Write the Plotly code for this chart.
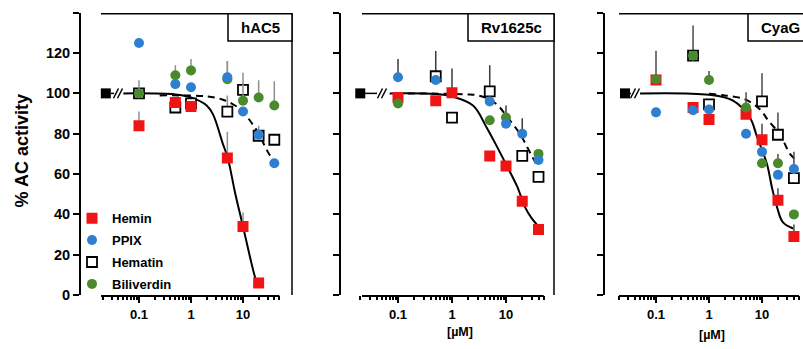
import math
import plotly.graph_objects as go

W, H = 803, 349

# ---------------- data ----------------
conc = [0.1, 0.5, 1, 5, 10, 20, 40]
panel_names = ["hAC5", "Rv1625c", "CyaG"]
ctrl_x = [0.023, 0.02, 0.026]
ctrl_y = [100, 100, 100]

# hAC5
hac5_hemin = [84, 95.5, 93.5, 68, 34, 6, None]
hac5_hemin_err = [7, 0, 0, 13, 7, 0, 0]
hac5_ppix = [125, 104.6, 103, 108, 91, 79.5, 65.4]
hac5_ppix_err = [0, 0, 0, 8, 0, 4.5, 0]
hac5_hematin = [100, 93, 95, 91, 101.7, 79, 77]
hac5_hematin_err = [0, 0, 0, 8, 8.5, 0, 0]
hac5_bili = [100, 109, 111.4, 107, 96.4, 98, 94]
hac5_bili_err = [6.5, 5, 5.6, 9, 8.6, 8.5, 12]
hac5_fit_x = [0.05, 0.5, 1, 2, 2.65, 4.1, 5.1, 7, 10, 13.6, 17, 20]
hac5_fit_y = [100, 99.5, 98, 94, 89.6, 75, 68, 51, 34, 19, 9, 4]
hac5_dash_x = [0.25, 2, 4, 6, 9, 15, 20, 30, 40]
hac5_dash_y = [99, 98.5, 97, 95, 92, 85, 80, 71, 66]

# Rv1625c
rv_hemin = [98, 96.4, 100.3, 69, 64, 46.5, 32.5]
rv_hemin_err = [0, 0, 12, 0, 0, 0, 0]
rv_ppix = [108, 106.6, None, 96, 85, 80, 67]
rv_ppix_err = [9, 0, 0, 0, 0, 7.7, 0]
rv_hematin = [None, 108.5, 88, 101, None, 69, 58.6]
rv_hematin_err = [0, 12.5, 0, 13, 0, 0, 0]
rv_bili = [95, None, None, 86.7, 88, None, 70]
rv_bili_err = [0, 0, 0, 0, 6, 0, 0]
rv_fit_x = [0.07, 0.5, 1, 2.45, 4.4, 6.8, 10.4, 16, 22.5, 30, 40]
rv_fit_y = [100, 99.7, 98.5, 94, 83, 73.6, 64, 54, 43.6, 38, 34]
rv_dash_x = [0.15, 2, 3, 5, 7.7, 10, 16, 20, 30, 40]
rv_dash_y = [100, 99.5, 99, 97, 93, 89, 82, 78, 69, 63]

# CyaG
cy_hemin = [106.6, 93, 87, 89.6, 77, 47, 29]
cy_hemin_err = [14.5, 0, 0, 11, 8, 6, 6]
cy_ppix = [90.6, 91.6, 92, 80, 71, 59.6, 62.5]
cy_ppix_err = [0, 0, 0, 0, 0, 0, 8.5]
cy_hematin = [None, 118.7, 94.5, None, 96, 79.5, 58]
cy_hematin_err = [0, 15, 0, 0, 14, 11, 0]
cy_bili = [107, 118.7, 106.6, 93, 65.4, 65.4, 40]
cy_bili_err = [0, 0, 4.5, 0, 0, 4.5, 0]
cy_fit_x = [0.05, 1, 2.84, 5.9, 8.05, 12.4, 15.5, 19.2, 24.9, 38.5]
cy_fit_y = [100, 99.3, 96.4, 88, 78.5, 65, 53, 43.6, 36, 33]
cy_dash_x = [1, 2, 4.8, 9.2, 13, 21.9, 33.7, 44]
cy_dash_y = [99.8, 99, 97, 92, 86.7, 79.5, 70, 67]

y_ticks = [0, 20, 40, 60, 80, 100, 120, 140]
y_ticktext = ["0", "20", "40", "60", "80", "100", "120", ""]
x_major = [0.1, 1, 10]
x_major_text = ["0.1", "1", "10"]
x_minor = [0.02, 0.03, 0.04, 0.05, 0.06, 0.07, 0.08, 0.09,
           0.2, 0.3, 0.4, 0.5, 0.6, 0.7, 0.8, 0.9,
           2, 3, 4, 5, 6, 7, 8, 9, 20, 30, 40, 50]

panels_data = [
    dict(hemin=hac5_hemin, hemin_err=hac5_hemin_err, ppix=hac5_ppix, ppix_err=hac5_ppix_err,
         hematin=hac5_hematin, hematin_err=hac5_hematin_err, bili=hac5_bili, bili_err=hac5_bili_err,
         fx=hac5_fit_x, fy=hac5_fit_y, dx=hac5_dash_x, dy=hac5_dash_y),
    dict(hemin=rv_hemin, hemin_err=rv_hemin_err, ppix=rv_ppix, ppix_err=rv_ppix_err,
         hematin=rv_hematin, hematin_err=rv_hematin_err, bili=rv_bili, bili_err=rv_bili_err,
         fx=rv_fit_x, fy=rv_fit_y, dx=rv_dash_x, dy=rv_dash_y),
    dict(hemin=cy_hemin, hemin_err=cy_hemin_err, ppix=cy_ppix, ppix_err=cy_ppix_err,
         hematin=cy_hematin, hematin_err=cy_hematin_err, bili=cy_bili, bili_err=cy_bili_err,
         fx=cy_fit_x, fy=cy_fit_y, dx=cy_dash_x, dy=cy_dash_y),
]

# ---------------- layout geometry (pixels) ----------------
geo = [
    dict(yax=80, x0=98, frame_l=101, x1=292, frame_r=292, one=191, dec=52, box0=228, brk=[111, 114, 116, 120]),
    dict(yax=340, x0=352, frame_l=362, x1=554, frame_r=554, one=452, dec=54, box0=468, brk=[365, 377, 380, 384]),
    dict(yax=604, x0=616, frame_l=619, x1=803, frame_r=812, one=709, dec=53, box0=748, brk=[630, 631, 633, 637]),
]
Y_TOP, Y_BOT = 13, 302

RED = "#f01414"
BLUE = "#2f7fd0"
GREEN = "#4a8a2c"
ERRC = ["#8f8f8f", "#3a3a3a", "#4a4a4a"]
FONT = "Liberation Sans, Arial, sans-serif"


def PX(x):
    return x / W


def PY(y):
    return 1 - y / H


fig = go.Figure()
shapes = []
annotations = []

for i, (name, d, g) in enumerate(zip(panel_names, panels_data, geo)):
    k = "" if i == 0 else str(i + 1)
    xa, ya = "x" + k, "y" + k
    first = i == 0

    # fitted curves
    fig.add_trace(go.Scatter(x=d["fx"], y=d["fy"], mode="lines", line=dict(color="black", width=2, shape="spline"),
                             xaxis=xa, yaxis=ya, showlegend=False, hoverinfo="skip"))
    fig.add_trace(go.Scatter(x=d["dx"], y=d["dy"], mode="lines",
                             line=dict(color="black", width=2, dash="7px,5px", shape="spline"),
                             xaxis=xa, yaxis=ya, showlegend=False, hoverinfo="skip"))

    def err(arr):
        return dict(type="data", symmetric=False, array=arr, arrayminus=[0] * len(arr),
                    width=0, thickness=1.5, color=ERRC[i])

    fig.add_trace(go.Scatter(x=conc, y=d["hematin"], mode="markers", name="Hematin",
                             marker=dict(symbol="square", size=10, color="white", line=dict(color="black", width=1.8)),
                             error_y=err(d["hematin_err"]), xaxis=xa, yaxis=ya,
                             showlegend=first, legendgroup="hematin", legendrank=3))
    fig.add_trace(go.Scatter(x=conc, y=d["hemin"], mode="markers", name="Hemin",
                             marker=dict(symbol="square", size=11, color=RED),
                             error_y=err(d["hemin_err"]), xaxis=xa, yaxis=ya,
                             showlegend=first, legendgroup="hemin", legendrank=1))
    fig.add_trace(go.Scatter(x=conc, y=d["bili"], mode="markers", name="Biliverdin",
                             marker=dict(symbol="circle", size=10, color=GREEN),
                             error_y=err(d["bili_err"]), xaxis=xa, yaxis=ya,
                             showlegend=first, legendgroup="bili", legendrank=4))
    fig.add_trace(go.Scatter(x=conc, y=d["ppix"], mode="markers", name="PPIX",
                             marker=dict(symbol="circle", size=10, color=BLUE),
                             error_y=err(d["ppix_err"]), xaxis=xa, yaxis=ya,
                             showlegend=first, legendgroup="ppix", legendrank=2))
    fig.add_trace(go.Scatter(x=[ctrl_x[i]], y=[ctrl_y[i]], mode="markers",
                             marker=dict(symbol="square", size=10, color="black"),
                             cliponaxis=False, xaxis=xa, yaxis=ya, showlegend=False))

    r0 = (g["x0"] - g["one"]) / g["dec"]
    r1 = (g["x1"] - g["one"]) / g["dec"]
    fig.update_layout(**{
        "xaxis" + k: dict(type="log", domain=[PX(g["x0"]), PX(g["x1"])], range=[r0, r1], anchor=ya,
                          showline=False, showgrid=False, zeroline=False,
                          tickmode="array", tickvals=x_major, ticktext=x_major_text,
                          ticks="outside", ticklen=7, tickwidth=1.5, tickcolor="black",
                          tickfont=dict(size=13, color="black"),
                          minor=dict(tickmode="array", tickvals=x_minor, ticks="outside", ticklen=4,
                                     tickwidth=1.5, tickcolor="black", showgrid=False)),
        "yaxis" + k: dict(domain=[PY(Y_BOT), PY(Y_TOP)], range=[0, 140], anchor="free", position=PX(g["yax"]),
                          showline=True, linewidth=2, linecolor="black", showgrid=False, zeroline=False,
                          tickmode="array", tickvals=y_ticks, ticktext=y_ticktext,
                          ticks="outside", ticklen=6, tickwidth=2, tickcolor="black",
                          showticklabels=first, tickfont=dict(size=14.5, color="black")),
    })

    # x-axis line (ends at 50)
    xend = g["one"] + g["dec"] * math.log10(50)
    shapes.append(dict(type="line", xref="paper", yref="paper", x0=PX(g["frame_l"]), x1=PX(xend),
                       y0=PY(Y_BOT + 1), y1=PY(Y_BOT + 1), line=dict(color="black", width=2)))
    # frame (top and right)
    shapes.append(dict(type="line", xref="paper", yref="paper", x0=PX(g["frame_l"]), x1=PX(g["frame_r"]),
                       y0=PY(14), y1=PY(14), line=dict(color="black", width=1.5)))
    shapes.append(dict(type="line", xref="paper", yref="paper", x0=PX(g["frame_r"]), x1=PX(g["frame_r"]),
                       y0=PY(14), y1=PY(Y_BOT), line=dict(color="black", width=1.5)))
    # title box
    shapes.append(dict(type="rect", xref="paper", yref="paper", x0=PX(g["box0"]), x1=PX(g["frame_r"]),
                       y0=PY(42), y1=PY(14), line=dict(color="black", width=1.5), fillcolor="white"))
    annotations.append(dict(text=name, xref="paper", yref="paper", x=PX((g["box0"] + g["frame_r"]) / 2),
                            y=PY(28), showarrow=False, font=dict(size=15, color="black"),
                            xanchor="center", yanchor="middle"))
    # axis break marks
    b = g["brk"]
    yb = Y_BOT - 100 * (Y_BOT - Y_TOP) / 140
    shapes.append(dict(type="line", xref="paper", yref="paper", x0=PX(b[0]), x1=PX(b[1]),
                       y0=PY(yb), y1=PY(yb), line=dict(color="black", width=1.5)))
    for sx in b[2:]:
        shapes.append(dict(type="line", xref="paper", yref="paper", x0=PX(sx - 2.5), x1=PX(sx + 2.5),
                           y0=PY(yb + 5), y1=PY(yb - 5), line=dict(color="black", width=1.5)))

annotations.append(dict(text="[µM]", xref="paper", yref="paper", x=PX(460), y=PY(340), showarrow=False,
                        font=dict(size=12.5, color="black"), xanchor="center", yanchor="middle"))
annotations.append(dict(text="[µM]", xref="paper", yref="paper", x=PX(712), y=PY(343), showarrow=False,
                        font=dict(size=12.5, color="black"), xanchor="center", yanchor="middle"))
annotations.append(dict(text="% AC activity", xref="paper", yref="paper", x=PX(22), y=PY(155), showarrow=False,
                        textangle=-90, font=dict(size=18, color="black"), xanchor="center", yanchor="middle"))

fig.update_layout(
    width=W, height=H, margin=dict(l=0, r=0, t=0, b=0),
    paper_bgcolor="white", plot_bgcolor="white",
    font=dict(family=FONT, weight="bold", color="black"),
    shapes=shapes, annotations=annotations,
    showlegend=True,
    legend=dict(x=PX(72), y=PY(208), xanchor="left", yanchor="top", bgcolor="rgba(0,0,0,0)",
                font=dict(size=13, color="black"), traceorder="grouped", tracegroupgap=2,
                itemclick=False),
)

fig.write_html("out.html")
